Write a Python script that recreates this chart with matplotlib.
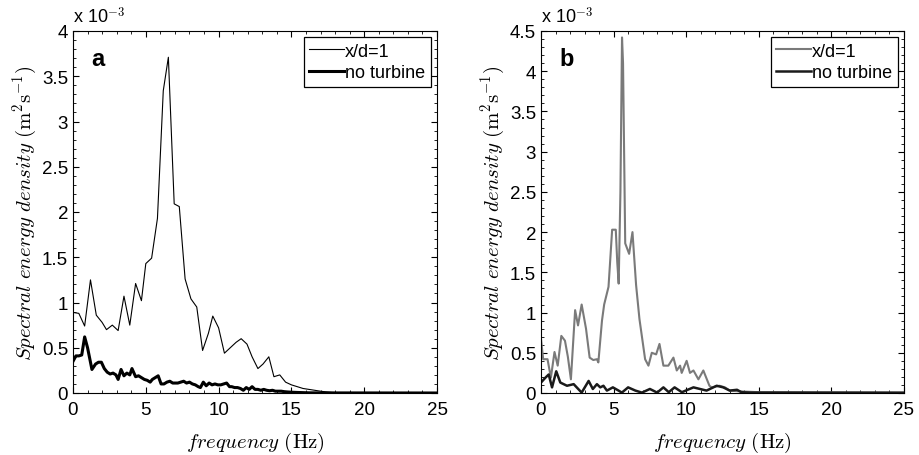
import matplotlib
matplotlib.use("Agg")
import matplotlib.pyplot as plt
from matplotlib.ticker import MultipleLocator, FormatStrFormatter

plt.rcParams['font.family'] = ['Liberation Sans', 'DejaVu Sans']
plt.rcParams['mathtext.fontset'] = 'cm'

# ---- panel a : spectra (units of 1e-3 m^2 s^-1) ----
freq_a_turb = [0.0, 0.4, 0.8, 1.2, 1.6, 2.0, 2.3, 2.7, 3.1, 3.5, 3.9, 4.3, 4.7, 5.0,
               5.4, 5.8, 6.2, 6.55, 6.95, 7.3, 7.7, 8.1, 8.5, 8.9, 9.3, 9.6, 10.0,
               10.4, 10.8, 11.2, 11.55, 11.95, 12.3, 12.7, 13.05, 13.45, 13.8, 14.2,
               14.6, 15.0, 15.4, 15.8, 16.2, 16.6, 17.0, 17.4, 17.8, 18.5, 25.0]
psd_a_turb = [0.89, 0.88, 0.74, 1.25, 0.86, 0.78, 0.70, 0.75, 0.69, 1.07, 0.75, 1.21,
              1.02, 1.43, 1.49, 1.93, 3.34, 3.71, 2.09, 2.06, 1.26, 1.04, 0.95, 0.47,
              0.66, 0.85, 0.72, 0.44, 0.50, 0.56, 0.60, 0.54, 0.40, 0.27, 0.32, 0.40,
              0.18, 0.20, 0.12, 0.09, 0.07, 0.05, 0.04, 0.03, 0.02, 0.012, 0.006,
              0.003, 0.002]

freq_a_free = [0.0, 0.2, 0.4, 0.6, 0.8, 1.0, 1.15, 1.3, 1.55, 1.75, 1.95, 2.15, 2.35,
               2.55, 2.75, 2.95, 3.1, 3.3, 3.5, 3.7, 3.9, 4.05, 4.3, 4.5, 4.7, 4.9,
               5.1, 5.3, 5.45, 5.65, 5.85, 6.05, 6.25, 6.45, 6.65, 6.85, 7.0, 7.2,
               7.4, 7.6, 7.8, 8.0, 8.2, 8.4, 8.6, 8.75, 8.95, 9.15, 9.35, 9.55, 9.75,
               9.95, 10.15, 10.35, 10.55, 10.75, 10.9, 11.1, 11.3, 11.5, 11.7, 11.9,
               12.1, 12.3, 12.5, 12.7, 12.9, 13.1, 13.3, 13.5, 13.7, 13.9, 14.1, 14.3,
               14.5, 14.7, 14.9, 15.1, 15.4, 15.8, 16.2, 17.0, 25.0]
psd_a_free = [0.35, 0.41, 0.41, 0.42, 0.62, 0.50, 0.38, 0.26, 0.32, 0.34, 0.34, 0.27,
              0.23, 0.21, 0.22, 0.20, 0.15, 0.26, 0.19, 0.22, 0.20, 0.27, 0.18, 0.19,
              0.17, 0.15, 0.14, 0.12, 0.15, 0.17, 0.19, 0.10, 0.10, 0.12, 0.13, 0.11,
              0.11, 0.11, 0.12, 0.13, 0.11, 0.12, 0.10, 0.09, 0.07, 0.06, 0.12, 0.08,
              0.11, 0.09, 0.10, 0.09, 0.09, 0.10, 0.11, 0.07, 0.07, 0.06, 0.06, 0.05,
              0.03, 0.06, 0.04, 0.07, 0.04, 0.04, 0.03, 0.04, 0.03, 0.025, 0.03, 0.02,
              0.02, 0.02, 0.015, 0.012, 0.01, 0.008, 0.006, 0.004, 0.002, 0.001, 0.0]

# ---- panel b ----
freq_b_turb = [0.0, 0.15, 0.45, 0.68, 0.93, 1.15, 1.4, 1.65, 1.85, 2.06, 2.35, 2.55,
               2.8, 3.1, 3.35, 3.6, 3.85, 3.95, 4.2, 4.35, 4.65, 4.9, 5.15, 5.25,
               5.35, 5.47, 5.58, 5.65, 5.8, 6.07, 6.3, 6.55, 6.78, 7.17, 7.4, 7.63,
               7.93, 8.16, 8.43, 8.77, 9.12, 9.35, 9.58, 9.69, 10.03, 10.26, 10.5,
               10.84, 11.18, 11.6, 11.75, 12.3, 12.67, 13.0, 13.7, 15.0, 25.0]
psd_b_turb = [0.67, 0.42, 0.42, 0.19, 0.51, 0.34, 0.71, 0.65, 0.45, 0.17, 1.03, 0.84,
              1.10, 0.80, 0.44, 0.41, 0.42, 0.38, 0.90, 1.10, 1.32, 2.03, 2.03, 1.63,
              1.36, 2.50, 4.42, 4.10, 1.86, 1.73, 2.00, 1.34, 0.92, 0.42, 0.34, 0.50,
              0.48, 0.61, 0.34, 0.34, 0.44, 0.28, 0.34, 0.25, 0.40, 0.25, 0.28, 0.17,
              0.28, 0.09, 0.07, 0.09, 0.07, 0.03, 0.02, 0.01, 0.005]

freq_b_free = [0.0, 0.3, 0.53, 0.76, 1.05, 1.33, 1.79, 2.25, 2.8, 3.28, 3.57, 3.85,
               4.08, 4.3, 4.54, 4.95, 5.34, 5.57, 6.0, 6.5, 6.95, 7.5, 8.0, 8.43, 8.8,
               9.2, 9.7, 10.5, 10.95, 11.4, 12.1, 12.55, 13.0, 13.5, 13.8, 14.4, 25.0]
psd_b_free = [0.13, 0.19, 0.23, 0.07, 0.27, 0.13, 0.09, 0.11, 0.005, 0.15, 0.05, 0.11,
              0.07, 0.09, 0.03, 0.07, 0.03, 0.005, 0.07, 0.03, 0.005, 0.05, 0.005, 0.07,
              0.01, 0.07, 0.01, 0.07, 0.05, 0.03, 0.09, 0.07, 0.03, 0.04, 0.01, 0.005,
              0.003]

fig = plt.figure(figsize=(9.19, 4.56), dpi=100)
ax_a = fig.add_axes([73/919, 62/456, 364/919, 362/456])
ax_b = fig.add_axes([541/919, 62/456, 363/919, 362/456])

ax_a.plot(freq_a_turb, psd_a_turb, color='black', lw=0.8, label='x/d=1')
ax_a.plot(freq_a_free, psd_a_free, color='black', lw=2.2, label='no turbine')
ax_b.plot(freq_b_turb, psd_b_turb, color='#7a7a7a', lw=1.5, label='x/d=1')
ax_b.plot(freq_b_free, psd_b_free, color='#1a1a1a', lw=1.8, label='no turbine')

def style(ax, ymax, letter):
    ax.set_xlim(0, 25)
    ax.set_ylim(0, ymax)
    ax.xaxis.set_major_locator(MultipleLocator(5))
    ax.xaxis.set_minor_locator(MultipleLocator(1))
    ax.yaxis.set_major_locator(MultipleLocator(0.5))
    ax.yaxis.set_minor_locator(MultipleLocator(0.1))
    ax.yaxis.set_major_formatter(FormatStrFormatter('%g'))
    ax.tick_params(which='both', direction='in', top=True, right=True, labelsize=13.5)
    ax.tick_params(which='major', length=4)
    ax.tick_params(which='minor', length=2)
    ax.tick_params(axis='x', pad=6)
    ax.set_xlabel(r'$frequency\ (\mathrm{Hz})$', fontsize=15, labelpad=8)
    ax.set_ylabel(r'$Spectral\ energy\ density\ (\mathrm{m^2s^{-1}})$', fontsize=15, labelpad=2)
    ax.text(0.0, 1.012, r'x 10$^{-3}$', transform=ax.transAxes, fontsize=13, va='bottom', ha='left')
    ax.text(0.05, 0.955, letter, transform=ax.transAxes, fontsize=17, fontweight='bold', va='top')
    leg = ax.legend(loc='upper right', fancybox=False, framealpha=1, edgecolor='black',
                    fontsize=13, handlelength=1.95, handletextpad=0.05, borderpad=0.3,
                    labelspacing=0.25, borderaxespad=0.35)
    leg.get_frame().set_linewidth(0.9)

style(ax_a, 4, 'a')
style(ax_b, 4.5, 'b')

fig.savefig('out.png', dpi=100)
